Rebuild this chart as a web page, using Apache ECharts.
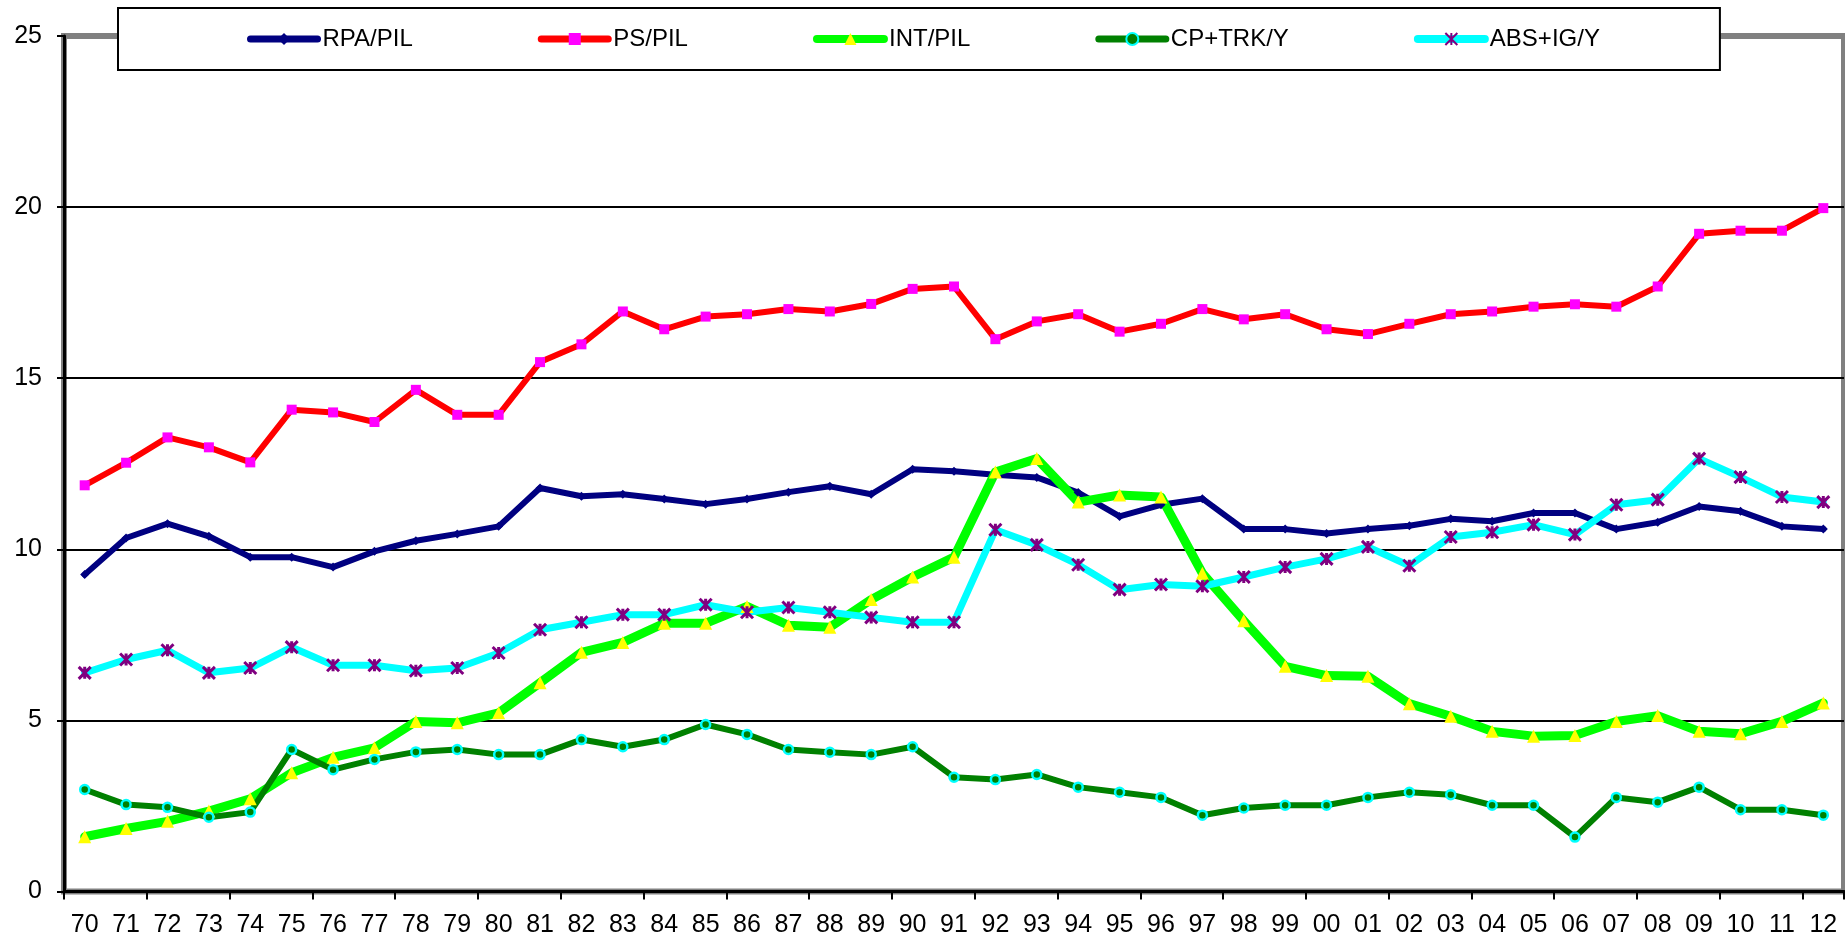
<!DOCTYPE html>
<html>
<head>
<meta charset="utf-8">
<script src="https://cdn.jsdelivr.net/npm/echarts@6/dist/echarts.min.js"></script>
<style>
html,body{margin:0;padding:0;background:#fff;}
#chart{width:1845px;height:944px;}
</style>
</head>
<body>
<div id="chart"></div>
<script>
const years = ['70','71','72','73','74','75','76','77','78','79','80','81','82','83','84','85','86','87','88','89','90','91','92','93','94','95','96','97','98','99','00','01','02','03','04','05','06','07','08','09','10','11','12'];

const rpaPil = [9.26,10.33,10.75,10.38,9.77,9.77,9.48,9.94,10.25,10.45,10.67,11.79,11.55,11.61,11.47,11.32,11.47,11.67,11.84,11.61,12.34,12.28,12.18,12.1,11.66,10.96,11.3,11.48,10.59,10.59,10.46,10.59,10.69,10.89,10.82,11.06,11.06,10.59,10.79,11.25,11.11,10.67,10.59];

const psPil = [11.87,12.53,13.27,12.98,12.54,14.08,14.0,13.72,14.66,13.93,13.93,15.47,15.99,16.95,16.43,16.8,16.87,17.02,16.95,17.17,17.61,17.68,16.14,16.66,16.87,16.36,16.59,17.02,16.72,16.87,16.43,16.29,16.59,16.87,16.95,17.09,17.16,17.09,17.68,19.22,19.31,19.31,19.97];

const intPil = [1.6,1.84,2.05,2.35,2.71,3.47,3.92,4.2,4.97,4.93,5.22,6.1,6.99,7.28,7.84,7.84,8.33,7.78,7.72,8.53,9.19,9.77,12.26,12.65,11.38,11.59,11.53,9.3,7.91,6.58,6.31,6.29,5.49,5.12,4.68,4.54,4.56,4.97,5.14,4.68,4.61,4.97,5.51];

const cpTrkY = [2.98,2.54,2.46,2.17,2.32,4.15,3.56,3.86,4.08,4.15,4.0,4.0,4.44,4.23,4.44,4.88,4.59,4.15,4.07,4.0,4.23,3.34,3.27,3.42,3.05,2.9,2.75,2.23,2.44,2.52,2.52,2.75,2.9,2.83,2.52,2.52,1.59,2.75,2.61,3.05,2.39,2.39,2.23];

const absIgY = [6.39,6.78,7.05,6.39,6.53,7.14,6.61,6.61,6.45,6.53,6.97,7.65,7.87,8.09,8.09,8.38,8.16,8.3,8.16,8.01,7.87,7.87,10.57,10.13,9.55,8.82,8.97,8.92,9.19,9.48,9.72,10.07,9.52,10.36,10.5,10.72,10.43,11.3,11.45,12.65,12.11,11.53,11.38];

const seriesNames = ['RPA/PIL','PS/PIL','INT/PIL','CP+TRK/Y','ABS+IG/Y'];
const yTicks = [0,5,10,15,20,25];

const chart = echarts.init(document.getElementById('chart'));
const font = 'Arial, "Liberation Sans", sans-serif';

function line(name, data, lineColor, width, symbol, size, itemStyle) {
  return {
    name: name,
    type: 'line',
    data: data,
    symbol: symbol,
    symbolSize: size,
    showSymbol: true,
    showAllSymbol: true,
    lineStyle: {color: lineColor, width: width, cap: 'round', join: 'round'},
    itemStyle: itemStyle,
    emphasis: {disabled: true},
    animation: false
  };
}

chart.setOption({
  animation: false,
  backgroundColor: '#fff',
  textStyle: {fontFamily: font},
  grid: {
    left: 64, right: 1, top: 36, bottom: 52.5,
    show: true, borderColor: '#808080', borderWidth: 6, backgroundColor: 'transparent'
  },
  legend: {
    data: [
      {name: seriesNames[0], lineStyle: {width: 7}},
      {name: seriesNames[1], lineStyle: {width: 7}},
      {name: seriesNames[2], lineStyle: {width: 8}},
      {name: seriesNames[3], lineStyle: {width: 7}},
      {name: seriesNames[4], lineStyle: {width: 8}}
    ],
    left: 118, top: 8,
    padding: [19, 120, 19, 129],
    itemGap: 125,
    itemWidth: 67,
    itemHeight: 15,
    backgroundColor: '#fff',
    borderColor: '#000',
    borderWidth: 2,
    borderRadius: 0,
    lineStyle: {width: 7},
    textStyle: {fontSize: 24, color: '#000', fontFamily: font},
    z: 10
  },
  xAxis: {
    type: 'category',
    data: years,
    boundaryGap: true,
    axisLine: {show: true, lineStyle: {color: '#000', width: 3}},
    axisTick: {show: true, interval: 1, length: 8, lineStyle: {color: '#000', width: 2}},
    axisLabel: {interval: 0, fontSize: 25, color: '#000', margin: 21, fontFamily: font},
    splitLine: {show: false}
  },
  yAxis: {
    type: 'value',
    min: yTicks[0], max: yTicks[yTicks.length - 1], interval: 5,
    axisLine: {show: true, lineStyle: {color: '#000', width: 3}},
    axisTick: {show: true, length: 7, lineStyle: {color: '#000', width: 2}},
    axisLabel: {fontSize: 25, color: '#000', margin: 22, fontFamily: font},
    splitLine: {show: true, lineStyle: {color: ['#000','#000','#000','#000','#000','#808080'], width: 2}}
  },
  series: [
    line(seriesNames[0], rpaPil, '#000080', 6, 'diamond', 9, {color: '#000080'}),
    line(seriesNames[1], psPil, '#FF0000', 6, 'rect', 10, {color: '#FF00FF'}),
    line(seriesNames[2], intPil, '#00FF00', 9, 'triangle', 13, {color: '#FFFF00'}),
    line(seriesNames[3], cpTrkY, '#008000', 6, 'circle', 9, {color: '#008000', borderColor: '#00FFFF', borderWidth: 2.5}),
    line(seriesNames[4], absIgY, '#00FFFF', 7, 'path://M0,0L10,10M10,0L0,10M5,0L5,10', 12, {color: '#800080', borderColor: '#800080', borderWidth: 3})
  ]
});
</script>
</body>
</html>
